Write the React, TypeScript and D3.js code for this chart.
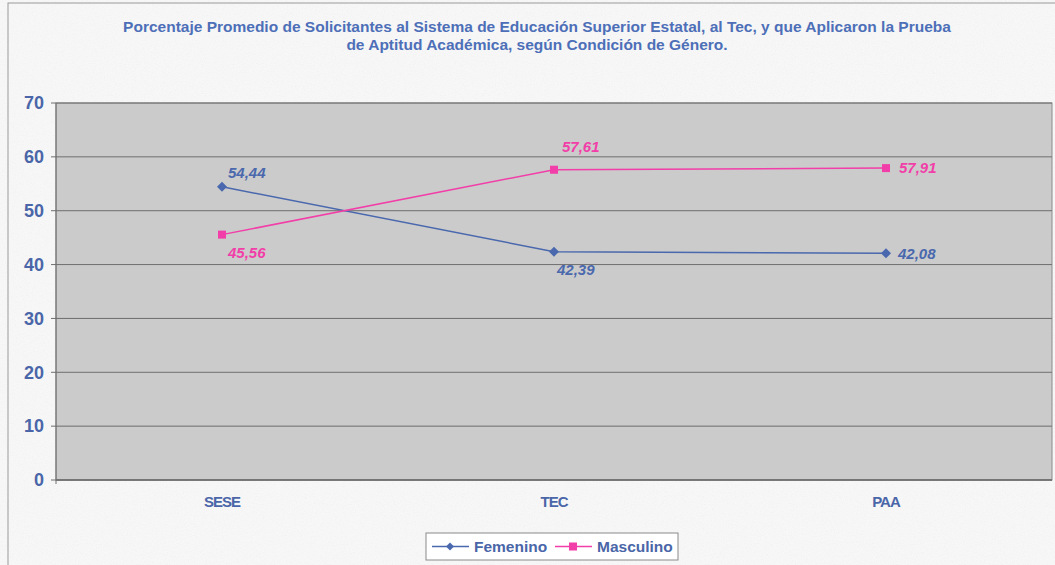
import React from "react";
import * as d3 from "d3";

const categories = ["SESE", "TEC", "PAA"];
const femenino = [54.44, 42.39, 42.08];
const masculino = [45.56, 57.61, 57.91];
const yTicks = [0, 10, 20, 30, 40, 50, 60, 70];
const titleLines = [
  "Porcentaje Promedio de Solicitantes al Sistema de Educación Superior Estatal, al Tec, y que Aplicaron la Prueba",
  "de Aptitud Académica, según Condición de Género.",
];
const seriesNames = ["Femenino", "Masculino"];

const W = 1055;
const H = 565;
const M = { left: 56, right: 1052, top: 103, bottom: 480 };
const BLUE = "#4a68ad";
const PINK = "#f23ea8";
const TXT = "#4a66a8";
const FONT = "'Liberation Sans', Arial, sans-serif";

const fmt = (v: number) => v.toFixed(2).replace(".", ",");

export default function App() {
  const x = d3.scaleBand<string>().domain(categories).range([M.left, M.right]);
  const y = d3.scaleLinear().domain([0, 70]).range([M.bottom, M.top]);
  const cx = (c: string) => (x(c) as number) + x.bandwidth() / 2;
  const line = d3
    .line<number>()
    .x((_, i) => cx(categories[i]))
    .y((d) => y(d));

  const femOff = [
    [6, -14],
    [3, 18],
    [12, 0],
  ] as const;
  const masOff = [
    [6, 18],
    [8, -23],
    [13, 0],
  ] as const;

  const diamond = (px: number, py: number, s = 5) =>
    `M${px},${py - s}L${px + s},${py}L${px},${py + s}L${px - s},${py}Z`;

  return (
    <svg
      width={W}
      height={H}
      style={{ position: "absolute", left: 0, top: 0 }}
      fontFamily={FONT}
    >
      <defs>
        <filter id="speckle" x="0" y="0" width="100%" height="100%">
          <feTurbulence type="fractalNoise" baseFrequency="0.9" numOctaves="2" seed="3" />
          <feColorMatrix
            type="matrix"
            values="0 0 0 0 0.75  0 0 0 0 0.75  0 0 0 0 0.8  0 0 0 -1.6 0.9"
          />
          <feComposite in2="SourceGraphic" operator="in" />
        </filter>
      </defs>
      <rect x={0} y={0} width={W} height={H} fill="#f7f7f7" />
      <rect x={0} y={0} width={W} height={H} fill="#f7f7f7" filter="url(#speckle)" opacity={0.35} />
      <rect x={8} y={3} width={W} height={H} fill="none" stroke="#9a9a9a" strokeWidth={1} />

      {titleLines.map((t, i) => (
        <text
          key={i}
          x={537}
          y={32 + i * 18}
          textAnchor="middle"
          fontSize={15.5}
          fontWeight="bold"
          fill="#4d6fb8"
        >
          {t}
        </text>
      ))}

      <rect
        x={M.left}
        y={M.top}
        width={M.right - M.left}
        height={M.bottom - M.top}
        fill="#cbcbcb"
        stroke="#8a8a8a"
      />
      {yTicks.map((t) => (
        <g key={t}>
          <line x1={M.left} x2={M.right} y1={y(t)} y2={y(t)} stroke="#6e6e6e" strokeWidth={1} />
          <line x1={M.left - 5} x2={M.left} y1={y(t)} y2={y(t)} stroke="#6e6e6e" />
          <text
            x={44}
            y={y(t)}
            dy="0.35em"
            textAnchor="end"
            fontSize={18}
            fontWeight="bold"
            fill={TXT}
          >
            {t}
          </text>
        </g>
      ))}
      <line x1={M.left} x2={M.left} y1={M.top} y2={M.bottom + 4} stroke="#6e6e6e" />
      <line x1={M.left} x2={M.right} y1={M.bottom} y2={M.bottom} stroke="#6e6e6e" strokeWidth={1.5} />

      {categories.map((c) => (
        <text
          key={c}
          x={cx(c)}
          y={507}
          textAnchor="middle"
          fontSize={15}
          fontWeight="bold"
          fill={TXT}
          letterSpacing={-1}
        >
          {c}
        </text>
      ))}

      <path d={line(femenino) || ""} fill="none" stroke={BLUE} strokeWidth={1.5} />
      <path d={line(masculino) || ""} fill="none" stroke={PINK} strokeWidth={1.5} />
      {femenino.map((v, i) => (
        <g key={"f" + i}>
          <path d={diamond(cx(categories[i]), y(v))} fill={BLUE} />
          <text
            x={cx(categories[i]) + femOff[i][0]}
            y={y(v) + femOff[i][1]}
            dy="0.35em"
            fontSize={15}
            fontWeight="bold"
            fontStyle="italic"
            fill={BLUE}
          >
            {fmt(v)}
          </text>
        </g>
      ))}
      {masculino.map((v, i) => (
        <g key={"m" + i}>
          <rect x={cx(categories[i]) - 4} y={y(v) - 4} width={8} height={8} fill={PINK} />
          <text
            x={cx(categories[i]) + masOff[i][0]}
            y={y(v) + masOff[i][1]}
            dy="0.35em"
            fontSize={15}
            fontWeight="bold"
            fontStyle="italic"
            fill={PINK}
          >
            {fmt(v)}
          </text>
        </g>
      ))}

      <g>
        <rect x={426} y={533} width={252} height={27} fill="#ffffff" stroke="#8a8a8a" />
        <line x1={432} x2={469} y1={546.5} y2={546.5} stroke={BLUE} strokeWidth={1.5} />
        <path d={diamond(450, 546.5, 4)} fill={BLUE} />
        <text x={474} y={546.5} dy="0.35em" fontSize={15.5} fontWeight="bold" fill={TXT}>
          {seriesNames[0]}
        </text>
        <line x1={555} x2={592} y1={546.5} y2={546.5} stroke={PINK} strokeWidth={1.5} />
        <rect x={569} y={542.5} width={8} height={8} fill={PINK} />
        <text x={597} y={546.5} dy="0.35em" fontSize={15.5} fontWeight="bold" fill={TXT}>
          {seriesNames[1]}
        </text>
      </g>
    </svg>
  );
}
